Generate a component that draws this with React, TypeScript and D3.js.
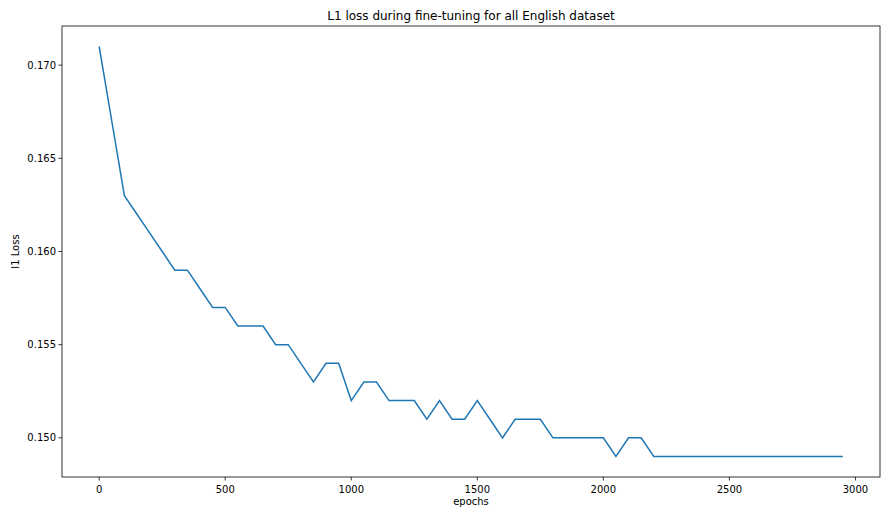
import React from "react";
import * as d3 from "d3";

const epochs: number[] = Array.from({ length: 60 }, (_, i) => i * 50);
const losses: number[] = [
  0.171, 0.167, 0.163, 0.162, 0.161, 0.16, 0.159, 0.159, 0.158, 0.157,
  0.157, 0.156, 0.156, 0.156, 0.155, 0.155, 0.154, 0.153, 0.154, 0.154,
  0.152, 0.153, 0.153, 0.152, 0.152, 0.152, 0.151, 0.152, 0.151, 0.151,
  0.152, 0.151, 0.15, 0.151, 0.151, 0.151, 0.15, 0.15, 0.15, 0.15,
  0.15, 0.149, 0.15, 0.15, 0.149, 0.149, 0.149, 0.149, 0.149, 0.149,
  0.149, 0.149, 0.149, 0.149, 0.149, 0.149, 0.149, 0.149, 0.149, 0.149,
];
const xTicks: number[] = [0, 500, 1000, 1500, 2000, 2500, 3000];
const yTicks: number[] = [0.15, 0.155, 0.16, 0.165, 0.17];
const title = "L1 loss during fine-tuning for all English dataset";
const xLabel = "epochs";
const yLabel = "l1 Loss";

const W = 883;
const H = 514;
const L = 62, R = 880, T = 26, B = 477;

export default function App() {
  const xs = d3.extent(epochs) as [number, number];
  const ys = d3.extent(losses) as [number, number];
  const xm = (xs[1] - xs[0]) * 0.05;
  const ym = (ys[1] - ys[0]) * 0.05;
  const x = d3.scaleLinear().domain([xs[0] - xm, xs[1] + xm]).range([L, R]);
  const y = d3.scaleLinear().domain([ys[0] - ym, ys[1] + ym]).range([B, T]);
  const line = d3
    .line<number>()
    .x((_, i) => x(epochs[i]))
    .y((d) => y(d));
  const font = "DejaVu Sans, sans-serif";
  return (
    <div style={{ position: "fixed", left: 0, top: 0 }}>
      <svg width={W} height={H} style={{ display: "block", background: "#fff" }}>
        <rect x={0} y={0} width={W} height={H} fill="#fff" />
        <path d={line(losses) || ""} fill="none" stroke="#1f77b4" strokeWidth={1.5} />
        <rect x={L} y={T} width={R - L} height={B - T} fill="none" stroke="#000" strokeWidth={0.8} />
        {xTicks.map((t) => (
          <g key={t} transform={`translate(${x(t)},${B})`}>
            <line y1={0} y2={3.5} stroke="#000" strokeWidth={0.8} />
            <text y={16} textAnchor="middle" fontSize={10} fontFamily={font} fill="#000">
              {t}
            </text>
          </g>
        ))}
        {yTicks.map((t) => (
          <g key={t} transform={`translate(${L},${y(t)})`}>
            <line x1={0} x2={-3.5} stroke="#000" strokeWidth={0.8} />
            <text x={-6} dy="0.35em" textAnchor="end" fontSize={10} fontFamily={font} fill="#000">
              {d3.format(".3f")(t)}
            </text>
          </g>
        ))}
        <text x={(L + R) / 2} y={505} textAnchor="middle" fontSize={10} fontFamily={font} fill="#000">
          {xLabel}
        </text>
        <text
          transform={`translate(19,${(T + B) / 2}) rotate(-90)`}
          textAnchor="middle"
          fontSize={10}
          fontFamily={font}
          fill="#000"
        >
          {yLabel}
        </text>
        <text x={(L + R) / 2} y={20} textAnchor="middle" fontSize={12} fontFamily={font} fill="#000">
          {title}
        </text>
      </svg>
    </div>
  );
}
